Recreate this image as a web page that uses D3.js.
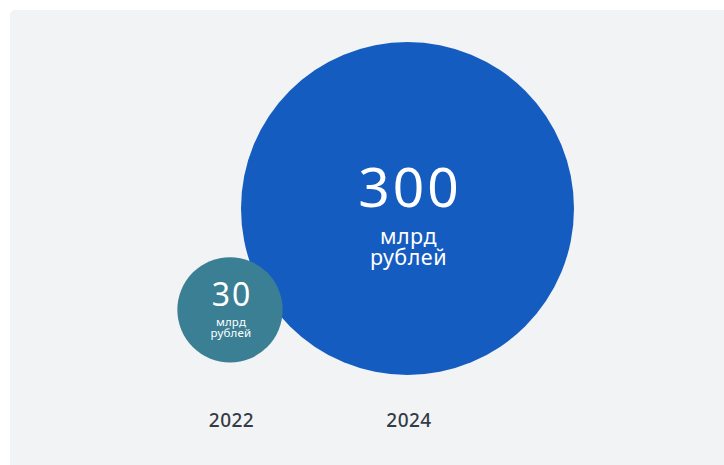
<!DOCTYPE html>
<html>
<head>
<meta charset="utf-8">
<script src="https://cdn.jsdelivr.net/npm/d3@7/dist/d3.min.js"></script>
<style>
  html, body { margin: 0; padding: 0; background: #ffffff; }
  svg { display: block; }
  .unit { margin: 0; padding: 0; color: #ffffff; text-align: center; white-space: normal; }
</style>
</head>
<body>
<svg id="chart" width="724" height="465"></svg>
<script>
// ---- data ----
const years = ["2022", "2024"];
const values = [30, 300];
const valueLabels = ["30", "300"];
const unitText = "млрд рублей";

// ---- layout ----
const W = 724, H = 465;
const svg = d3.select("#chart");
const font = "'Noto Sans', 'Open Sans', sans-serif";
const ASC = 1.069, DESC = 0.293; // Noto Sans metrics

svg.append("rect")
  .attr("x", 10).attr("y", 10)
  .attr("width", W).attr("height", H)
  .attr("rx", 5)
  .attr("fill", "#f2f3f5");

const x = d3.scalePoint().domain(years).range([230, 407.5]);
const r = d3.scaleSqrt().domain([0, 300]).range([0, 166.5]);
const colors = d3.scaleOrdinal().domain(years).range(["#3a7f94", "#155cc0"]);
const cy = v => 356.7 - 0.89 * r(v);

const data = years.map((y, i) => ({ year: y, value: values[i], label: valueLabels[i] }));
const order = data.slice().sort((a, b) => b.value - a.value);

const g = svg.selectAll("g.bubble").data(order).join("g").attr("class", "bubble");

g.append("circle")
  .attr("cx", d => x(d.year))
  .attr("cy", d => cy(d.value))
  .attr("r", d => r(d.value))
  .attr("fill", d => colors(d.year));

const big = d => d.value >= 300;

g.each(function(d) {
  const cx = x(d.year);
  const y0 = cy(d.value);
  const numSize = big(d) ? 55 : 32;
  const unitSize = big(d) ? 21.5 : 11.5;
  const numLS = big(d) ? 3 : 2;
  const numBase = y0 + (big(d) ? -1.5 : -3.5);
  const unitBase = y0 + (big(d) ? 35.5 : 16);
  const lh = big(d) ? 21 : 11;
  const boxW = big(d) ? 100 : 56;
  const sel = d3.select(this);

  sel.append("text")
    .attr("x", cx + 1 + numLS / 2)
    .attr("y", numBase)
    .attr("text-anchor", "middle")
    .attr("fill", "#ffffff")
    .attr("font-family", font)
    .attr("font-size", numSize)
    .attr("letter-spacing", numLS)
    .text(d.label);

  const baselineOffset = (lh - (ASC + DESC) * unitSize) / 2 + ASC * unitSize;
  const top = unitBase - baselineOffset;
  sel.append("foreignObject")
    .attr("x", cx + 1 - boxW / 2)
    .attr("y", top)
    .attr("width", boxW)
    .attr("height", lh * 2 + 10)
    .append("xhtml:div")
    .attr("class", "unit")
    .style("font-family", font)
    .style("font-size", unitSize + "px")
    .style("line-height", lh + "px")
    .style("letter-spacing", (big(d) ? 0.5 : 0.2) + "px")
    .text(unitText);
});

// year axis labels
const axis = d3.axisBottom(x).tickSize(0).tickPadding(0);
const ax = svg.append("g").attr("transform", "translate(1,413)").call(axis);
ax.select(".domain").remove();
ax.selectAll("text")
  .attr("dy", "0.71em")
  .attr("fill", "#333b45")
  .attr("font-family", font)
  .attr("font-size", 19)
  .attr("letter-spacing", 0.5)
  .attr("font-weight", 500);
</script>
</body>
</html>
